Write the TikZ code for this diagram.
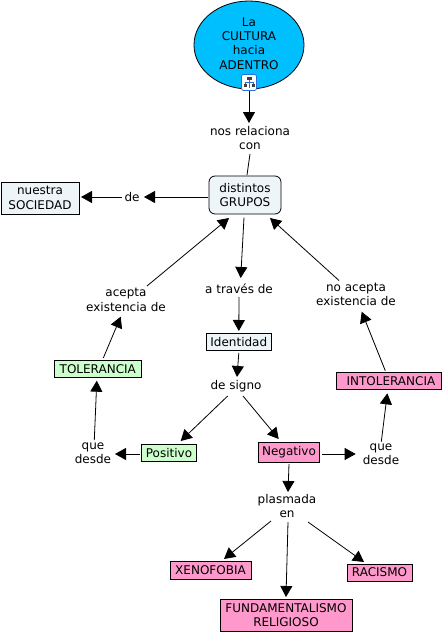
\documentclass[tikz,border=0pt]{standalone}
\usepackage{fontspec}
\setmainfont{DejaVu Sans}
\usetikzlibrary{shapes.geometric,arrows.meta,positioning}
\definecolor{cultcyan}{RGB}{0,191,255}
\definecolor{palebox}{RGB}{238,245,248}
\definecolor{pinkbox}{RGB}{255,153,204}
\definecolor{greenbox}{RGB}{204,255,204}
\definecolor{iconblue}{RGB}{40,110,220}
\tikzset{
  cpt/.style={rectangle, draw=black, line width=0.8pt, inner sep=0pt, align=center, font=\fontsize{12}{14.4}\selectfont},
  paleb/.style={cpt, fill=palebox},
  pinkb/.style={cpt, fill=pinkbox},
  greenb/.style={cpt, fill=greenbox},
  linkw/.style={inner sep=0pt, outer sep=0pt, align=center, font=\fontsize{12}{14.4}\selectfont},
  lnk/.style={line width=0.8pt},
  arr/.style={line width=0.8pt, -{Triangle[length=11pt,width=12pt]}}
}
\newcommand{\atnode}[3]{([shift={(#2,#3)}]#1.center)}
\begin{document}
\begin{tikzpicture}[x=1pt, y=-1pt]
\useasboundingbox (0,0) rectangle (443,632);
% concepts
\node[ellipse, draw=black, line width=0.8pt, fill=cultcyan, minimum width=110pt, minimum height=88pt, inner sep=0pt, label={[linkw, yshift=1.5pt]center:{La\\CULTURA\\hacia\\ADENTRO}}] (cultura) at (249,45) {};
\node[paleb, rounded corners=6pt, minimum width=72pt, minimum height=38pt] (grupos) at (245,195) {distintos\\GRUPOS};
\node[paleb, minimum width=78pt, minimum height=32pt] (sociedad) at (40,198) {nuestra\\ SOCIEDAD};
\node[paleb, minimum width=65pt, minimum height=17.5pt] (identidad) at (238.8,342) {Identidad};
\node[greenb, minimum width=87pt, minimum height=17.5pt] (tolerancia) at (97.8,369) {TOLERANCIA};
\node[pinkb, minimum width=105pt, minimum height=17.5pt] (intolerancia) at (389,381) {\ INTOLERANCIA};
\node[greenb, minimum width=55.5pt, minimum height=17.5pt] (positivo) at (169,453) {Positivo};
\node[pinkb, minimum width=60.5pt, minimum height=20pt] (negativo) at (289,452) {Negativo};
\node[pinkb, minimum width=81pt, minimum height=18pt] (xenofobia) at (210.5,570) {XENOFOBIA};
\node[pinkb, minimum width=65pt, minimum height=17pt] (racismo) at (379.5,572.5) {RACISMO};
\node[pinkb, minimum width=132pt, minimum height=32pt] (fundam) at (286,615) {FUNDAMENTALISMO\\RELIGIOSO};
% linking words
\node[linkw] (relaciona) at (250,138) {nos relaciona\\con};
\node[linkw] (de) at (132,197) {de};
\node[linkw] (acepta) at (126,300) {acepta\\existencia de};
\node[linkw] (atraves) at (239,289) {a través de};
\node[linkw] (noacepta) at (356,294.5) {no acepta\\existencia de};
\node[linkw] (signo) at (236,386) {de signo};
\node[linkw] (quei) at (93,453) {que\\desde};
\node[linkw] (qued) at (381,454) {que\\desde};
\node[linkw] (plasmada) at (287,506) {plasmada\\en};
% icon
\node[rectangle, rounded corners=2pt, draw=iconblue, fill=white, line width=0.8pt, minimum width=15pt, minimum height=16pt, inner sep=0pt] (icono) at (249,82.5) {};
\fill[black!75] (246.5,77) rectangle (251.5,80);
\fill[black!75] (243.5,84) rectangle (246.5,87);
\fill[black!75] (251.5,84) rectangle (254.5,87);
\draw[iconblue, line width=0.6pt] (249,80) -- (249,88) (245,84) -- (245,82) -- (253,82) -- (253,84);
% connectors
\draw[arr] \atnode{icono}{0}{8.5} -- \atnode{relaciona}{-1}{-15};
\draw[lnk] \atnode{relaciona}{0}{16} -- \atnode{grupos}{2}{-20};
\draw[arr] \atnode{grupos}{-37}{2} -- \atnode{de}{12}{0};
\draw[arr] \atnode{de}{-10}{0} -- \atnode{sociedad}{41}{-1};
\draw[arr] \atnode{acepta}{21}{-14} -- \atnode{grupos}{-16}{23};
\draw[arr] \atnode{grupos}{-1}{22.5} -- \atnode{atraves}{1.7}{-11};
\draw[arr] \atnode{noacepta}{-17}{-14} -- \atnode{grupos}{25}{23};
\draw[arr] \atnode{atraves}{0}{8} -- \atnode{identidad}{0}{-11};
\draw[arr] \atnode{identidad}{0}{11} -- \atnode{signo}{1}{-9};
\draw[arr] \atnode{signo}{-8.3}{10} -- \atnode{positivo}{11.7}{-12};
\draw[arr] \atnode{signo}{7}{10} -- \atnode{negativo}{-10.3}{-13};
\draw[arr] \atnode{positivo}{-29}{1} -- \atnode{quei}{22}{1};
\draw[arr] \atnode{quei}{1.3}{-13} -- \atnode{tolerancia}{-1}{11.7};
\draw[arr] \atnode{tolerancia}{5.5}{-11} -- \atnode{acepta}{-5.3}{16.7};
\draw[arr] \atnode{negativo}{33}{2} -- \atnode{qued}{-25.3}{0};
\draw[arr] \atnode{qued}{0.3}{-12.3} -- \atnode{intolerancia}{-1.7}{12.3};
\draw[arr] \atnode{intolerancia}{-3.7}{-10.3} -- \atnode{noacepta}{5.7}{17.2};
\draw[arr] \atnode{negativo}{0}{12} -- \atnode{plasmada}{1}{-14};
\draw[arr] \atnode{plasmada}{-16}{15} -- \atnode{xenofobia}{13.5}{-11};
\draw[arr] \atnode{plasmada}{1}{16} -- \atnode{fundam}{0}{-18};
\draw[arr] \atnode{plasmada}{21}{16} -- \atnode{racismo}{-15.5}{-10.5};
\end{tikzpicture}
\end{document}
